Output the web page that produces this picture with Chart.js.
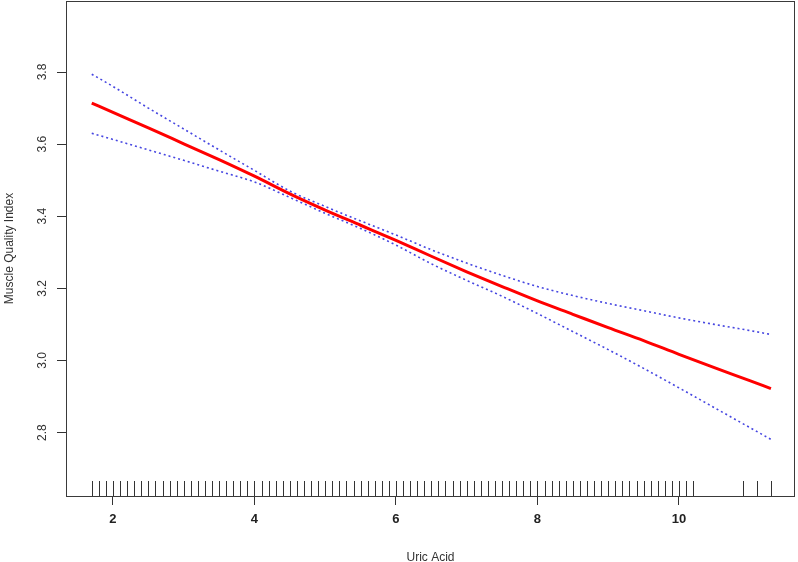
<!DOCTYPE html>
<html>
<head>
<meta charset="utf-8">
<script src="https://cdn.jsdelivr.net/npm/chart.js@4/dist/chart.umd.min.js"></script>
<style>
  html, body { margin: 0; padding: 0; background: #ffffff; }
  #wrap { width: 798px; height: 562px; }
</style>
</head>
<body>
<div id="wrap"><canvas id="c" width="798" height="562"></canvas></div>
<script>
// ---- data ----
const uricAcid = [1.7, 2.0, 2.5, 3.0, 3.5, 4.0, 4.5, 5.0, 5.5, 6.0, 6.5, 7.0, 7.5, 8.0, 8.5, 9.0, 9.5, 10.0, 10.5, 11.0, 11.3];
const fitMQI   = [3.714, 3.688, 3.645, 3.601, 3.557, 3.511, 3.462, 3.417, 3.375, 3.333, 3.289, 3.246, 3.205, 3.165, 3.128, 3.091, 3.055, 3.017, 2.980, 2.944, 2.922];
const upperCI  = [3.794, 3.760, 3.700, 3.642, 3.584, 3.527, 3.470, 3.427, 3.387, 3.348, 3.307, 3.270, 3.236, 3.205, 3.180, 3.158, 3.138, 3.118, 3.100, 3.083, 3.072];
const lowerCI  = [3.630, 3.613, 3.584, 3.555, 3.525, 3.495, 3.452, 3.408, 3.366, 3.320, 3.268, 3.222, 3.178, 3.130, 3.080, 3.030, 2.978, 2.924, 2.869, 2.814, 2.781];
const rugValues = [1.7, 1.8, 1.9, 2.0, 2.1, 2.2, 2.3, 2.4, 2.5, 2.6, 2.7, 2.8, 2.9, 3.0, 3.1, 3.2, 3.3, 3.4, 3.5, 3.6, 3.7, 3.8, 3.9,
  4.0, 4.1, 4.2, 4.3, 4.4, 4.5, 4.6, 4.7, 4.8, 4.9, 5.0, 5.1, 5.2, 5.3, 5.4, 5.5, 5.6, 5.7, 5.8, 5.9,
  6.0, 6.1, 6.2, 6.3, 6.4, 6.5, 6.6, 6.7, 6.8, 6.9, 7.0, 7.1, 7.2, 7.3, 7.4, 7.5, 7.6, 7.7, 7.8, 7.9,
  8.0, 8.1, 8.2, 8.3, 8.4, 8.5, 8.6, 8.7, 8.8, 8.9, 9.0, 9.1, 9.2, 9.3, 9.4, 9.5, 9.6, 9.7, 9.8, 9.9,
  10.0, 10.1, 10.2, 10.9, 11.1, 11.3];
const xTickValues = [2, 4, 6, 8, 10];
const yTickValues = [2.8, 3.0, 3.2, 3.4, 3.6, 3.8];
const xAxisTitle = 'Uric Acid';
const yAxisTitle = 'Muscle Quality Index';

const pts = (ys) => uricAcid.map((x, i) => ({ x: x, y: ys[i] }));
const FONT = "'Liberation Sans', Arial, sans-serif";

const boxAndRug = {
  id: 'boxAndRug',
  afterDatasetsDraw(chart) {
    const ctx = chart.ctx, a = chart.chartArea, xs = chart.scales.x;
    ctx.save();
    ctx.strokeStyle = '#333333';
    ctx.lineWidth = 1;
    ctx.beginPath();
    rugValues.forEach(v => {
      const px = Math.round(xs.getPixelForValue(v)) + 0.5;
      ctx.moveTo(px, a.bottom - 15);
      ctx.lineTo(px, a.bottom);
    });
    ctx.stroke();
    ctx.strokeStyle = '#3a3a3a';
    ctx.strokeRect(Math.round(a.left) + 0.5, Math.round(a.top) + 0.5,
                   Math.round(a.right - a.left) - 1, Math.round(a.bottom - a.top));
    ctx.restore();
  }
};

const noPad = (s) => { s.paddingTop = 0; s.paddingBottom = 0; s.paddingLeft = 0; s.paddingRight = 0; };

new Chart(document.getElementById('c'), {
  type: 'line',
  data: {
    datasets: [
      { label: 'upper', data: pts(upperCI), borderColor: 'rgb(70,70,225)', borderWidth: 1.6, borderDash: [2, 3], pointRadius: 0, cubicInterpolationMode: 'monotone', fill: false },
      { label: 'lower', data: pts(lowerCI), borderColor: 'rgb(70,70,225)', borderWidth: 1.6, borderDash: [2, 3], pointRadius: 0, cubicInterpolationMode: 'monotone', fill: false },
      { label: 'fit', data: pts(fitMQI), borderColor: '#ff0000', borderWidth: 3, pointRadius: 0, cubicInterpolationMode: 'monotone', fill: false }
    ]
  },
  options: {
    responsive: false,
    devicePixelRatio: 1,
    animation: false,
    events: [],
    layout: { padding: { left: 0, top: 1, right: 3, bottom: 0 } },
    plugins: { legend: { display: false }, tooltip: { enabled: false } },
    scales: {
      x: {
        type: 'linear',
        min: 1.336,
        max: 11.64,
        afterBuildTicks: (s) => { s.ticks = xTickValues.map(v => ({ value: v })); },
        afterFit: (s) => { s.height = 66; noPad(s); },
        grid: { display: true, drawOnChartArea: false, drawTicks: true, tickLength: 9, color: '#333333' },
        border: { display: false },
        ticks: { color: '#222222', font: { family: FONT, size: 13, weight: 'bold' }, padding: 7, maxRotation: 0, minRotation: 0,
                 callback: (v) => String(v) },
        title: { display: true, text: xAxisTitle, color: '#333333', font: { family: FONT, size: 12, lineHeight: 1 }, padding: { top: 0, bottom: -2 } }
      },
      y: {
        type: 'linear',
        min: 2.624,
        max: 3.997,
        afterBuildTicks: (s) => { s.ticks = yTickValues.map(v => ({ value: v })); },
        afterFit: (s) => { s.width = 66; noPad(s); },
        grid: { display: true, drawOnChartArea: false, drawTicks: true, tickLength: 9, color: '#333333' },
        border: { display: false },
        ticks: { color: '#333333', font: { family: FONT, size: 12 }, padding: 6, minRotation: 90, maxRotation: 90, crossAlign: 'center',
                 callback: (v) => Number(v).toFixed(1) },
        title: { display: true, text: yAxisTitle, color: '#333333', font: { family: FONT, size: 12, lineHeight: 1.2 }, padding: { top: 2, bottom: 2 } }
      }
    }
  },
  plugins: [boxAndRug]
});
</script>
</body>
</html>
